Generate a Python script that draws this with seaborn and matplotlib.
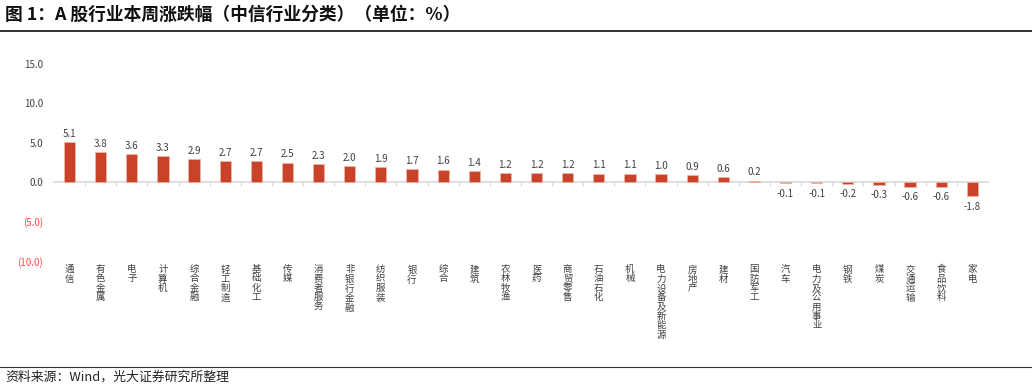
import matplotlib
matplotlib.use('Agg')
import matplotlib.pyplot as plt
from matplotlib.lines import Line2D
import seaborn as sns
import pandas as pd

industries = ['通信', '有色金属', '电子', '计算机', '综合金融', '轻工制造', '基础化工', '传媒',
              '消费者服务', '非银行金融', '纺织服装', '银行', '综合', '建筑', '农林牧渔', '医药',
              '商贸零售', '石油石化', '机械', '电力设备及新能源', '房地产', '建材', '国防军工',
              '汽车', '电力及公用事业', '钢铁', '煤炭', '交通运输', '食品饮料', '家电']
change = [5.1, 3.8, 3.6, 3.3, 2.9, 2.7, 2.7, 2.5, 2.3, 2.0, 1.9, 1.7, 1.6, 1.4, 1.2, 1.2,
          1.2, 1.1, 1.1, 1.0, 0.9, 0.6, 0.2, -0.1, -0.1, -0.2, -0.3, -0.6, -0.6, -1.8]
yticks = [-10, -5, 0, 5, 10, 15]

BAR = '#C8432A'; TXT = '#404040'; NEG = '#FF4B4B'; GRID = '#D9D9D9'

sns.set_theme(style='white')
plt.rcParams['font.family'] = ['Noto Sans CJK SC', 'DejaVu Sans']

df = pd.DataFrame({'industry': industries, 'chg': change})

fig = plt.figure(figsize=(10.32, 3.89), dpi=100)
ax = fig.add_axes([0.0523, 0.329, 0.905, 0.5065])
sns.barplot(data=df, x='industry', y='chg', color=BAR, width=0.36,
            edgecolor='#F0B8A8', linewidth=0.5, saturation=1, ax=ax)

ax.set_ylim(-10, 15)
ax.set_xlim(-0.5, len(industries) - 0.5)
ax.set_yticks(yticks)
ax.set_yticklabels([f'{v:.1f}' if v >= 0 else f'({abs(v):.1f})' for v in yticks])
for lab, v in zip(ax.get_yticklabels(), yticks):
    lab.set_color(TXT if v >= 0 else NEG)
ax.tick_params(axis='y', length=0, pad=8, labelsize=7)
ax.set_xticks(range(len(industries)))
ax.set_xticklabels(['\n'.join(s) for s in industries], va='top', linespacing=1.04)
ax.tick_params(axis='x', length=0, pad=3, labelsize=6.8, labelcolor=TXT)
ax.set_xlabel(''); ax.set_ylabel('')
for sp in ax.spines.values(): sp.set_visible(False)

# zero axis with small ticks between categories
zero = ax.secondary_xaxis(10 / 25)
zero.spines['bottom'].set_color(GRID); zero.spines['bottom'].set_linewidth(1.2)
zero.set_xticks([i + 0.5 for i in range(len(industries) - 1)])
zero.tick_params(axis='x', length=3, width=0.8, color=GRID, labelbottom=False, direction='out')

for i, v in enumerate(change):
    off = 0.4 if v >= 0 else -0.7
    ax.text(i, v + off, f'{v:.1f}', ha='center', va='bottom' if v >= 0 else 'top',
            fontsize=7, color=TXT)

fig.text(0.005, 0.962, '图 1：A 股行业本周涨跌幅（中信行业分类）（单位：%）', fontsize=12.8,
         fontweight='bold', color='#111111', va='center', ha='left')
fig.add_artist(Line2D([0, 1], [0.921, 0.921], transform=fig.transFigure, color='#222222', lw=1.3))
fig.add_artist(Line2D([0, 1], [0.056, 0.056], transform=fig.transFigure, color='#333333', lw=0.8))
fig.text(0.005, 0.030, '资料来源：Wind，光大证券研究所整理', fontsize=9.3, color='#222222',
         va='center', ha='left')

plt.savefig('out.png', dpi=100, facecolor='white')
